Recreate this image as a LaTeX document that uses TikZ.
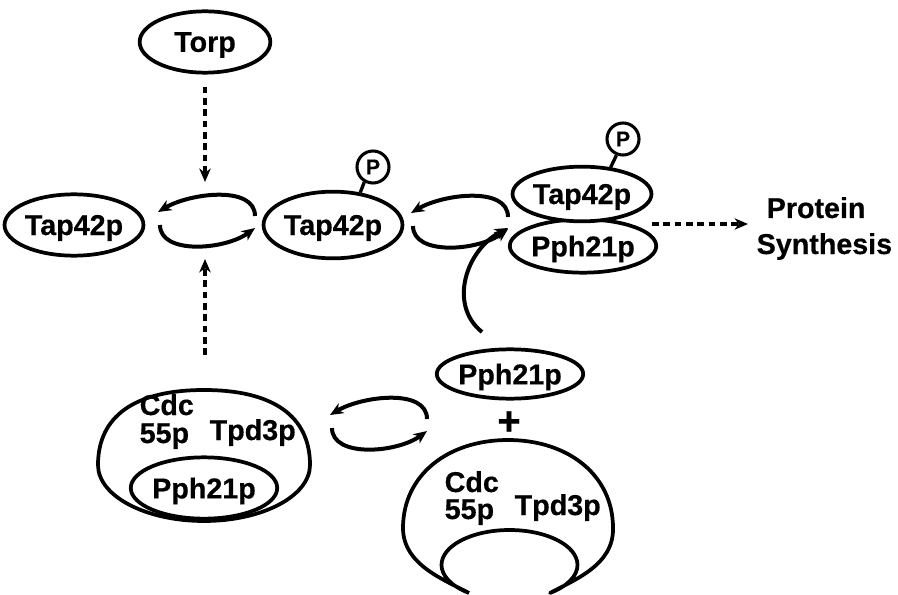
\documentclass[tikz,border=0pt]{standalone}
\usepackage{fontspec}
\setmainfont{Liberation Sans}[BoldFeatures={FakeBold=0.5}]
\usetikzlibrary{shapes.geometric,arrows.meta}
\begin{document}
\begin{tikzpicture}[x=0.75pt,y=-0.75pt,
  lbl/.style={font=\bfseries\fontsize{21.5}{24}\selectfont},
  prot/.style={ellipse,draw,line width=2.8pt,fill=white,inner sep=0pt,text depth=0pt,lbl},
  phos/.style={circle,draw,line width=2.3pt,fill=white,inner sep=0pt,minimum size=24pt,
    text depth=0pt,font=\bfseries\fontsize{16}{17}\selectfont},
  stem/.style={line width=2.5pt},
  tip/.style={-{Stealth[length=10pt,width=8.5pt,inset=3pt]}},
  flow/.style={line width=3pt,tip},
  signal/.style={line width=3.2pt,dash pattern=on 5pt off 3.5pt,tip},
  shell/.style={line width=2.8pt,line join=round}
]
\path[fill=white] (0,0) rectangle (898,595);
\useasboundingbox (0,0) rectangle (898,595);

% --- proteins of the upper row ---
\node[prot,minimum width=98pt,minimum height=46pt] (torp) at (205,42) {Torp};
\node[prot,minimum width=86pt,minimum height=46pt] (tapL) at (74,225) {Tap42p};
\node[prot,minimum width=97.5pt,minimum height=50pt] (tapM) at (333,225) {Tap42p};
\node[phos] (pM) at (373,167) {P};
\draw[stem] (pM.240) -- (tapM.50);

% Tap42p--Pph21p complex
\node[prot,minimum width=97.5pt,minimum height=40pt] (pphC) at (583,246) {Pph21p};
\node[prot,minimum width=96pt,minimum height=41pt] (tapC) at (582,194) {Tap42p};
\node[phos] (pC) at (623,139) {P};
\draw[stem] (pC.248) -- (tapC.43);

\node[lbl,anchor=base west] (prot) at (762,218) {Protein};
\node[lbl,anchor=base west] (synth) at (752,254) {Synthesis};

% --- reversible exchange arrows ---
\begin{scope}
  \draw[flow] (255,216) .. controls (255,185) and (190,193) .. (158,212);
  \draw[flow] (160,225) .. controls (160,255) and (225,250) .. (255,228);
\end{scope}
\begin{scope}[shift={(253,1)}]
  \draw[flow] (255,216) .. controls (255,185) and (190,193) .. (158,212);
  \draw[flow] (160,225) .. controls (160,255) and (225,250) .. (255,228);
\end{scope}
\begin{scope}[shift={(172,203)}]
  \draw[flow] (255,216) .. controls (255,185) and (190,193) .. (158,212);
  \draw[flow] (160,225) .. controls (160,255) and (225,250) .. (255,228);
\end{scope}

% --- Cdc55p/Tpd3p holding Pph21p ---
\draw[shell] (204,390) .. controls (135,390) and (98,416) .. (98,465)
  .. controls (98,496) and (145.5,521) .. (204,521)
  .. controls (262.5,521) and (310,496) .. (310,465)
  .. controls (310,416) and (273,390) .. (204,390) -- cycle;
\node[prot,minimum width=97pt,minimum height=46pt] (pphL) at (204,488) {Pph21p};
\node[lbl,anchor=base west] (cdcL) at (135,415) {Cdc};
\node[lbl,anchor=base west] (c55L) at (135,443) {55p};
\node[lbl,anchor=base west] (tpdL) at (205,440) {Tpd3p};

% --- free Pph21p + empty Cdc55p/Tpd3p ---
\node[prot,minimum width=95pt,minimum height=37pt] (pphR) at (510,374) {Pph21p};
\node[font=\bfseries\fontsize{30}{32}\selectfont] (plus) at (509,423) {+};
\draw[shell] (469,593) .. controls (445,580) and (403,565) .. (403,528)
  .. controls (403,475) and (448,440) .. (508,440)
  .. controls (568,440) and (613,475) .. (613,528)
  .. controls (614,565) and (574,580) .. (550,593)
  .. controls (567.1,586.4) and (577.5,576) .. (577.5,565)
  .. controls (577.5,545.7) and (547.1,530) .. (509.5,530)
  .. controls (471.9,530) and (441.5,545.7) .. (441.5,565)
  .. controls (441.5,576) and (451.9,586.4) .. (469,593);
\node[lbl,anchor=base west] (cdcR) at (440,492) {Cdc};
\node[lbl,anchor=base west] (c55R) at (440,519) {55p};
\node[lbl,anchor=base west] (tpdR) at (510,515) {Tpd3p};

% --- connectors ---
\coordinate (torpTip) at (205,182);
\draw[signal,shorten <=9pt] (torp) -- (torpTip);
\coordinate (holoTop) at (205,355);
\coordinate (holoTip) at (205,259);
\draw[signal] (holoTop) -- (holoTip);
\coordinate (cplxE) at (652,224);
\coordinate (synTip) at (748,224);
\draw[signal] (cplxE) -- (synTip);
\coordinate (pphRtop) at (482,332);
\coordinate (joinTip) at (508,228);
\draw[flow] (pphRtop) .. controls (448,305) and (466,250) .. (joinTip);
\end{tikzpicture}
\end{document}
